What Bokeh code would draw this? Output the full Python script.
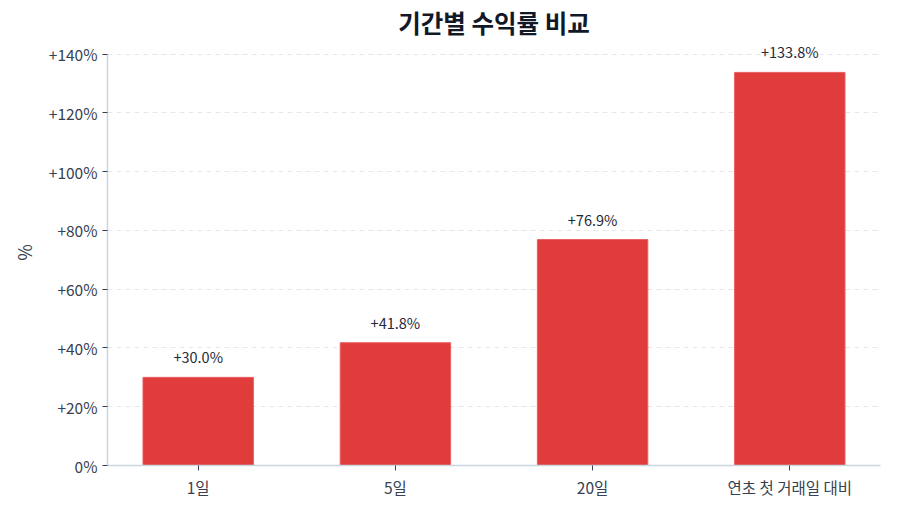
from bokeh.plotting import figure
from bokeh.models import ColumnDataSource, FactorRange, Range1d, CustomJSTickFormatter, FixedTicker
from bokeh.embed import file_html
from bokeh.resources import INLINE
from bokeh.core.properties import value

categories = ["1일", "5일", "20일", "연초 첫 거래일 대비"]
returns = [30.0, 41.8, 76.9, 133.8]
labels = ["+30.0%", "+41.8%", "+76.9%", "+133.8%"]
y_ticks = [0, 20, 40, 60, 80, 100, 120, 140]

FONT = "Noto Sans CJK KR"

src = ColumnDataSource(dict(cat=categories, val=returns, lab=labels))

p = figure(
    width=900, height=514,
    x_range=FactorRange(factors=categories, range_padding=-0.02, range_padding_units="percent"),
    y_range=Range1d(0, 145),
    output_backend="svg", toolbar_location=None,
    min_border_left=107, min_border_right=20, min_border_top=39, min_border_bottom=49,
    title="기간별 수익률 비교",
)
p.outline_line_color = None
p.background_fill_color = "white"
p.border_fill_color = "white"

p.title.text_font = FONT
p.title.text_font_size = "24.5px"
p.title.text_font_style = "bold"
p.title.text_color = "#111827"
p.title.align = "center"
p.title.standoff = 0

p.vbar(x="cat", top="val", width=0.56, source=src, fill_color="#e03c3c", line_color="#e86060", line_width=1)
p.text(x="cat", y="val", text="lab", source=src, text_align="center", text_baseline="bottom",
       y_offset=-10, text_font=value(FONT), text_font_size="14.5px", text_color="#1f2937")

p.xgrid.grid_line_color = None
p.ygrid.grid_line_color = "#e5e7eb"
p.ygrid.grid_line_dash = "5 4"
p.ygrid.grid_line_width = 1

p.yaxis.ticker = FixedTicker(ticks=y_ticks)
p.yaxis.bounds = (0, 140)
p.yaxis.formatter = CustomJSTickFormatter(code="return tick > 0 ? '+' + tick + '%' : tick + '%';")
p.yaxis.axis_label = "%"
p.yaxis.axis_label_text_font = FONT
p.yaxis.axis_label_text_font_size = "18px"
p.yaxis.axis_label_text_font_style = "normal"
p.yaxis.axis_label_text_color = "#374151"
p.yaxis.axis_label_standoff = 9

for ax in (p.xaxis, p.yaxis):
    ax.axis_line_color = "#cbd5e1"
    ax.axis_line_width = 1.5
    ax.major_tick_line_color = "#374151"
    ax.major_tick_out = 5
    ax.major_tick_in = 0
    ax.minor_tick_line_color = None
    ax.major_label_text_font = FONT
    ax.major_label_text_font_size = "15.5px"
    ax.major_label_text_color = "#374151"

open("out.html", "w").write(file_html(p, INLINE))
